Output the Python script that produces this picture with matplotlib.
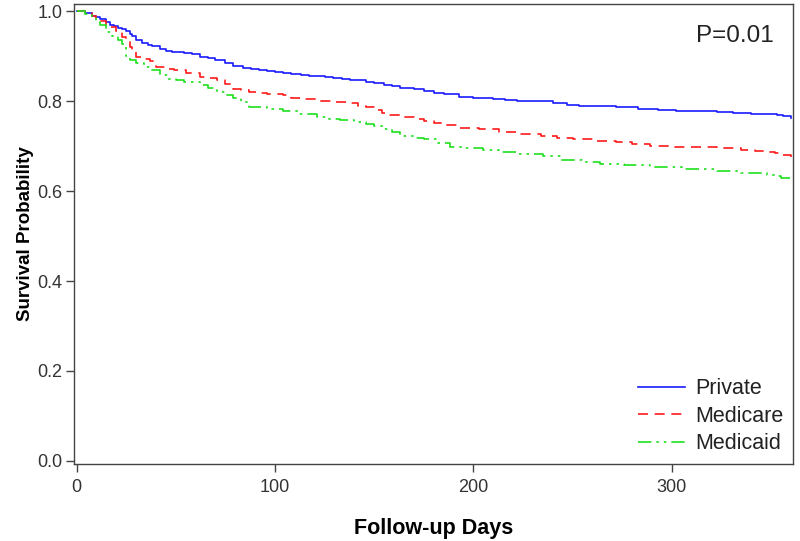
import numpy as np
import matplotlib.pyplot as plt

plt.rcParams['font.family'] = ['Liberation Sans', 'DejaVu Sans']

# Kaplan-Meier estimates (day, survival)
private_days = [0, 4, 8, 10, 12, 15, 17, 19, 21, 23, 25, 27, 28, 30, 33, 36, 38, 42, 45,
                48, 54, 58, 62, 66, 70, 75, 79, 84, 88, 92, 96, 100, 104, 108, 113,
                117, 121, 125, 129, 134, 138, 142, 146, 150, 155, 159, 163, 170, 175,
                180, 185, 193, 200, 210, 216, 222, 232, 240, 247, 253, 260, 272, 283,
                293, 302, 310, 323, 331, 340, 350, 353, 356, 360]
private_surv = [1.0, 0.995, 0.99, 0.987, 0.982, 0.976, 0.969, 0.966, 0.963, 0.96, 0.956,
                0.95, 0.945, 0.936, 0.93, 0.925, 0.922, 0.916, 0.911, 0.909, 0.907,
                0.904, 0.899, 0.896, 0.891, 0.884, 0.878, 0.874, 0.871, 0.869, 0.867,
                0.865, 0.863, 0.86, 0.858, 0.857, 0.855, 0.853, 0.852, 0.85, 0.848,
                0.846, 0.843, 0.84, 0.836, 0.833, 0.83, 0.826, 0.822, 0.818, 0.815,
                0.81, 0.808, 0.805, 0.803, 0.801, 0.8, 0.796, 0.792, 0.79, 0.789,
                0.786, 0.783, 0.78, 0.779, 0.778, 0.776, 0.774, 0.772, 0.771, 0.769,
                0.766, 0.762]

medicare_days = [0, 4, 8, 10, 12, 15, 17, 20, 23, 25, 27, 28, 30, 33, 37, 40, 45, 49,
                 55, 62, 66, 71, 75, 79, 83, 87, 92, 96, 104, 108, 115, 121, 126, 130,
                 138, 142, 146, 150, 154, 158, 163, 170, 175, 180, 185, 193, 203, 213,
                 224, 234, 242, 250, 262, 272, 280, 289, 300, 312, 323, 335, 342, 348,
                 352, 355, 360]
medicare_surv = [1.0, 0.995, 0.99, 0.985, 0.978, 0.97, 0.965, 0.955, 0.943, 0.935,
                 0.921, 0.91, 0.898, 0.894, 0.89, 0.876, 0.872, 0.869, 0.862, 0.854,
                 0.851, 0.847, 0.838, 0.828, 0.824, 0.821, 0.818, 0.815, 0.813, 0.806,
                 0.804, 0.801, 0.8, 0.798, 0.795, 0.79, 0.786, 0.781, 0.773, 0.769,
                 0.764, 0.76, 0.756, 0.752, 0.748, 0.741, 0.737, 0.732, 0.728, 0.722,
                 0.718, 0.715, 0.712, 0.71, 0.705, 0.701, 0.699, 0.697, 0.695, 0.691,
                 0.689, 0.687, 0.684, 0.681, 0.676]

medicaid_days = [0, 4, 8, 10, 12, 15, 18, 21, 23, 25, 27, 30, 34, 37, 42, 46, 50, 54,
                 62, 66, 71, 75, 79, 83, 87, 96, 104, 112, 121, 127, 133, 140, 146,
                 150, 155, 159, 163, 170, 175, 182, 188, 196, 205, 213, 222, 235, 244,
                 255, 264, 276, 289, 305, 323, 335, 348, 352, 355, 360]
medicaid_surv = [1.0, 0.993, 0.985, 0.978, 0.97, 0.954, 0.945, 0.935, 0.928, 0.9, 0.892,
                 0.884, 0.876, 0.869, 0.858, 0.85, 0.846, 0.843, 0.836, 0.829, 0.821,
                 0.814, 0.806, 0.797, 0.787, 0.782, 0.778, 0.772, 0.765, 0.761, 0.757,
                 0.753, 0.75, 0.745, 0.738, 0.731, 0.722, 0.718, 0.715, 0.706, 0.699,
                 0.695, 0.692, 0.687, 0.682, 0.677, 0.67, 0.665, 0.66, 0.657, 0.654,
                 0.65, 0.645, 0.64, 0.636, 0.633, 0.63, 0.624]

groups = ['Private', 'Medicare', 'Medicaid']
x_ticks = [0, 100, 200, 300]
y_ticks = [0.0, 0.2, 0.4, 0.6, 0.8, 1.0]

fig = plt.figure(figsize=(8, 5.41), dpi=100)
ax = fig.add_axes([0.0925, 0.1423, 0.8985, 0.8503])

ax.step(private_days, private_surv, where='post', color='#1a1aff', lw=1.2,
        label=groups[0])
ax.step(medicare_days, medicare_surv, where='post', color='#ff1a1a', lw=1.2,
        linestyle=(0, (6, 4)), label=groups[1])
ax.step(medicaid_days, medicaid_surv, where='post', color='#1ee01e', lw=1.2,
        linestyle=(0, (8, 3, 1.5, 3, 1.5, 3)), label=groups[2])

ax.set_xlim(-1.3, 361)
ax.set_ylim(-0.007, 1.016)
ax.set_xticks(x_ticks)
ax.set_yticks(y_ticks)
ax.set_yticklabels([f'{v:.1f}' for v in y_ticks])
ax.tick_params(direction='out', length=5.5, width=1, colors='#444444',
               labelcolor='#333333', labelsize=13, pad=3)
ax.tick_params(axis='x', pad=5)
for s in ax.spines.values():
    s.set_color('#444444')
    s.set_linewidth(1)

ax.set_xlabel('Follow-up Days', fontsize=15.5, fontweight='bold', labelpad=16)
ax.set_ylabel('Survival Probability', fontsize=13.5, fontweight='bold', labelpad=2)

ax.text(0.973, 0.955, 'P=0.01', transform=ax.transAxes, ha='right', va='top',
        fontsize=17.5, color='#222222')

leg = ax.legend(loc='lower right', frameon=False, fontsize=15.5, handlelength=2.2,
                handletextpad=0.45, labelspacing=0.3, borderaxespad=0.05)
for t in leg.get_texts():
    t.set_color('#222222')

fig.savefig('out.png', dpi=100)
